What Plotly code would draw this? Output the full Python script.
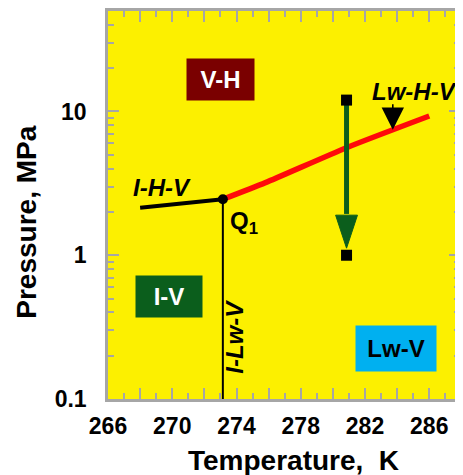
import numpy as np
import plotly.graph_objects as go

# ---- data ----
ihv_T = [268.0, 273.15]          # I-H-V equilibrium line
ihv_P = [2.14, 2.45]
lwhv_T = [273.15, 275.8, 280.85, 286.0]   # Lw-H-V equilibrium line
lwhv_P = [2.45, 3.2, 5.6, 9.3]
ilwv_T = [273.15, 273.15]        # I-Lw-V line
ilwv_P = [2.45, 0.1]
q1_T, q1_P = 273.15, 2.45        # quadruple point Q1
path_T = 280.85                  # depressurisation path
path_P_start, path_P_end = 12.0, 1.0

x_ticks = [266, 268, 270, 272, 274, 276, 278, 280, 282, 284, 286, 288]
x_ticktext = ["266", "", "270", "", "274", "", "278", "", "282", "", "286", ""]
y_ticks = [0.1, 1, 10]
y_ticktext = ["0.1", "1", "10"]
y_minor = [m * d for d in (0.1, 1, 10) for m in range(2, 10)]

FONT = "Liberation Sans"
GRAY = "#A6A6A6"
YELLOW = "#FCF000"
RED = "#FF0A0A"
GREEN = "#0B5E1C"

# page body has an 8px margin: figure is placed at (8, 8)
OFF = 8
W, H = 455, 467
L, R, T, B = 100, 0, 3, 76
pw, ph = W - L - R, H - T - B
PX_PER_K = 16.2

fig = go.Figure()

fig.add_trace(go.Scatter(x=ilwv_T, y=ilwv_P, mode="lines",
                         line=dict(color="black", width=2), hoverinfo="skip"))
fig.add_trace(go.Scatter(x=ihv_T, y=ihv_P, mode="lines",
                         line=dict(color="black", width=4), hoverinfo="skip"))
fig.add_trace(go.Scatter(x=lwhv_T, y=lwhv_P, mode="lines", line_shape="spline",
                         line=dict(color=RED, width=5.5, smoothing=0.6), hoverinfo="skip"))
fig.add_trace(go.Scatter(x=[q1_T], y=[q1_P], mode="markers",
                         marker=dict(color="black", size=10), hoverinfo="skip"))

# green arrow (shaft + head computed from the path values)
head_tip = path_P_end * 1.12
head_base = path_P_end * 1.9
half_w = 0.68
fig.add_trace(go.Scatter(x=[path_T, path_T], y=[path_P_start, head_base * 1.02], mode="lines",
                         line=dict(color=GREEN, width=5), hoverinfo="skip"))
fig.add_trace(go.Scatter(x=[path_T - half_w, path_T + half_w, path_T, path_T - half_w],
                         y=[head_base, head_base, head_tip, head_base],
                         mode="lines", fill="toself", fillcolor=GREEN,
                         line=dict(color=GREEN, width=1), hoverinfo="skip"))
fig.add_trace(go.Scatter(x=[path_T, path_T], y=[path_P_start, path_P_end], mode="markers",
                         marker=dict(color="black", size=11, symbol="square"), hoverinfo="skip"))

annos = []
def box(text, x, y, w, h, bg, fg):
    annos.append(dict(x=x, y=np.log10(y), xref="x", yref="y", text="<b>%s</b>" % text,
                      showarrow=False, bgcolor=bg, width=w, height=h, borderpad=0,
                      font=dict(family=FONT, size=24, color=fg)))

box("V-H", 273.0, 16.7, 67, 41, "#7A0000", "white")
box("I-V", 269.8, 0.516, 66, 41, GREEN, "white")
box("Lw-V", 283.94, 0.2245, 80, 45, "#00B0F0", "black")

def label(text, x, y, angle=0, xanchor="center", size=24):
    annos.append(dict(x=x, y=np.log10(y), xref="x", yref="y", text=text, showarrow=False,
                      textangle=angle, xanchor=xanchor, yanchor="middle",
                      font=dict(family=FONT, size=size, color="black")))

label("<b><i>I-H-V</i></b>", 269.35, 2.94)
label("<b><i>Lw-H-V</i></b>", 285.1, 13.8)
label("<b><i>I-Lw-V</i></b>", 273.89, 0.27, angle=-90)
label("<b>Q<sub>1</sub></b>", 273.45, 1.70, xanchor="left")

# small arrow pointing to Lw-H-V line
annos.append(dict(x=283.73, y=np.log10(7.45), xref="x", yref="y", text="", showarrow=True,
                  arrowhead=2, arrowsize=2.8, arrowwidth=1.6, arrowcolor="black", ax=0, ay=-27))

def page_to_paper(px, py):
    fx, fy = px - OFF, py - OFF
    return (fx - L) / pw, (H - B - fy) / ph

tx, ty = page_to_paper(295, 461)
annos.append(dict(x=tx, y=ty, xref="paper", yref="paper", text="<b>Temperature,\u00a0 K</b>",
                  showarrow=False, xanchor="center", yanchor="middle",
                  font=dict(family=FONT, size=28, color="black")))
tx, ty = page_to_paper(25, 222)
annos.append(dict(x=tx, y=ty, xref="paper", yref="paper", text="<b>Pressure, MPa</b>",
                  showarrow=False, textangle=-90, xanchor="center", yanchor="middle",
                  font=dict(family=FONT, size=28, color="black")))

fig.update_layout(
    width=W, height=H, margin=dict(l=L, r=R, t=T, b=B),
    paper_bgcolor="white", plot_bgcolor=YELLOW, showlegend=False,
    annotations=annos,
    font=dict(family=FONT, color="black"),
)
fig.update_xaxes(range=[266, 266 + pw / PX_PER_K], tickmode="array", tickvals=x_ticks,
                 ticktext=x_ticktext, ticks="inside", ticklen=11, tickwidth=2, tickcolor=GRAY,
                 minor=dict(ticks="inside", ticklen=6, tickwidth=2, tickcolor=GRAY, dtick=1,
                            tick0=266, showgrid=False),
                 showline=True, linecolor=GRAY, linewidth=2.5, mirror="ticks", showgrid=False,
                 zeroline=False, ticklabelstandoff=5,
                 tickfont=dict(family=FONT, size=23, color="black", weight="bold"))
fig.update_yaxes(type="log", range=[-1, np.log10(50)], tickmode="array", tickvals=y_ticks,
                 ticktext=y_ticktext, ticks="inside", ticklen=11, tickwidth=2, tickcolor=GRAY,
                 minor=dict(ticks="inside", ticklen=6, tickwidth=2, tickcolor=GRAY,
                            tickmode="array", tickvals=y_minor, showgrid=False),
                 showline=True, linecolor=GRAY, linewidth=2.5, mirror="ticks", showgrid=False,
                 zeroline=False, ticklabelstandoff=14,
                 tickfont=dict(family=FONT, size=23, color="black", weight="bold"))

fig.write_html("out.html")
